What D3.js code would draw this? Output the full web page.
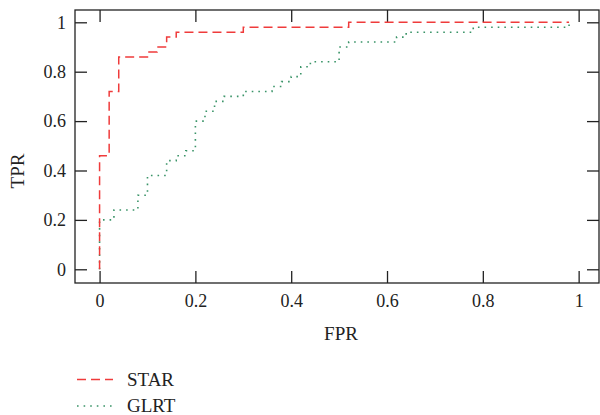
<!DOCTYPE html>
<html>
<head>
<meta charset="utf-8">
<script src="https://cdn.jsdelivr.net/npm/d3@7"></script>
<style>
  body { margin: 0; background: #fff; }
  svg text { font-family: "Liberation Serif", "Times New Roman", Times, "DejaVu Serif", "Noto Serif", serif; fill: #222; }
</style>
</head>
<body>
<div id="chart"></div>
<script>
const seriesNames = ['STAR', 'GLRT'];

// ROC step points
const starFpr = [0, 0, 0.02, 0.04, 0.1, 0.12, 0.14, 0.16, 0.3, 0.52, 0.98];
const starTpr = [0, 0.46, 0.72, 0.86, 0.88, 0.9, 0.94, 0.96, 0.98, 1.0, 1.0];

const glrtFpr = [0, 0, 0.03, 0.08, 0.1, 0.14, 0.16, 0.18, 0.2, 0.22, 0.24, 0.26, 0.3, 0.36, 0.38, 0.4, 0.42, 0.44, 0.5, 0.52, 0.62, 0.64, 0.78, 0.98];
const glrtTpr = [0, 0.2, 0.24, 0.3, 0.38, 0.44, 0.46, 0.48, 0.6, 0.64, 0.68, 0.7, 0.72, 0.74, 0.76, 0.78, 0.82, 0.84, 0.9, 0.92, 0.94, 0.96, 0.98, 1.0];

const xTicks = [0, 0.2, 0.4, 0.6, 0.8, 1];
const yTicks = [0, 0.2, 0.4, 0.6, 0.8, 1];

const width = 600;
const height = 415;
const box = {left: 75, right: 599, top: 10, bottom: 283};

window.onload = function() {
     drawChart();
};

function zipPoints(xs, ys) {
     return xs.map((x, i) => ({x: x, y: ys[i]}));
}

function drawChart() {
     const svg = d3.select('#chart')
          .append('svg')
               .attr('width', width)
               .attr('height', height);

     // 0 -> 99.6px, 1 -> 580px ; 0 -> 269.3px, 1 -> 22.3px
     const xScale = d3.scaleLinear()
          .domain([-0.0513, 1.0425])
          .range([box.left, box.right]);

     const yScale = d3.scaleLinear()
          .domain([-0.0555, 1.0498])
          .range([box.bottom, box.top]);

     const tickFmt = d3.format('~g');

     // frame
     svg.append('rect')
          .attr('x', box.left)
          .attr('y', box.top)
          .attr('width', box.right - box.left)
          .attr('height', box.bottom - box.top)
          .attr('fill', 'none')
          .attr('stroke', '#222')
          .attr('stroke-width', 1.3);

     // bottom axis
     const xAxis = svg.append('g')
          .attr('transform', `translate(0, ${box.bottom})`)
          .call(d3.axisBottom(xScale).tickValues(xTicks).tickFormat(tickFmt)
               .tickSize(-12).tickPadding(11));
     // top axis (ticks only)
     const xTop = svg.append('g')
          .attr('transform', `translate(0, ${box.top})`)
          .call(d3.axisTop(xScale).tickValues(xTicks).tickFormat('')
               .tickSize(-12));
     // left axis
     const yAxis = svg.append('g')
          .attr('transform', `translate(${box.left}, 0)`)
          .call(d3.axisLeft(yScale).tickValues(yTicks).tickFormat(tickFmt)
               .tickSize(-12).tickPadding(9));
     // right axis (ticks only)
     const yRight = svg.append('g')
          .attr('transform', `translate(${box.right}, 0)`)
          .call(d3.axisRight(yScale).tickValues(yTicks).tickFormat('')
               .tickSize(-12));

     [xAxis, xTop, yAxis, yRight].forEach(g => {
          g.attr('font-family', null);
          g.select('.domain').remove();
          g.selectAll('line').attr('stroke', '#222').attr('stroke-width', 1.3);
          g.selectAll('text')
               .attr('font-size', 18)
               .attr('fill', '#222');
     });

     // axis titles
     svg.append('text')
          .attr('x', (box.left + box.right) / 2 + 4)
          .attr('y', 340)
          .attr('text-anchor', 'middle')
          .attr('font-size', 19)
          .text('FPR');

     svg.append('text')
          .attr('transform', 'translate(24, 171) rotate(-90)')
          .attr('text-anchor', 'middle')
          .attr('font-size', 19)
          .text('TPR');

     const line = d3.line()
          .x(d => xScale(d.x))
          .y(d => yScale(d.y))
          .curve(d3.curveStepAfter);

     const styles = [
          {color: '#ef3b3b', dash: '9,5', width: 1.5},
          {color: '#3a9468', dash: '1.6,5', width: 1.6}
     ];
     const series = [zipPoints(starFpr, starTpr), zipPoints(glrtFpr, glrtTpr)];

     // draw GLRT first so STAR sits on top
     [1, 0].forEach(i => {
          svg.append('path')
               .datum(series[i])
               .attr('d', line)
               .attr('fill', 'none')
               .attr('stroke', styles[i].color)
               .attr('stroke-width', styles[i].width)
               .attr('stroke-dasharray', styles[i].dash);
     });

     // legend
     const legend = svg.append('g');
     seriesNames.forEach((name, i) => {
          const ly = 379.5 + i * 26.5;
          legend.append('line')
               .attr('x1', 77)
               .attr('x2', 113)
               .attr('y1', ly)
               .attr('y2', ly)
               .attr('stroke', styles[i].color)
               .attr('stroke-width', styles[i].width)
               .attr('stroke-dasharray', styles[i].dash);
          legend.append('text')
               .attr('x', 127)
               .attr('y', ly + 6)
               .attr('font-size', 19)
               .text(name);
     });
}
</script>
</body>
</html>
